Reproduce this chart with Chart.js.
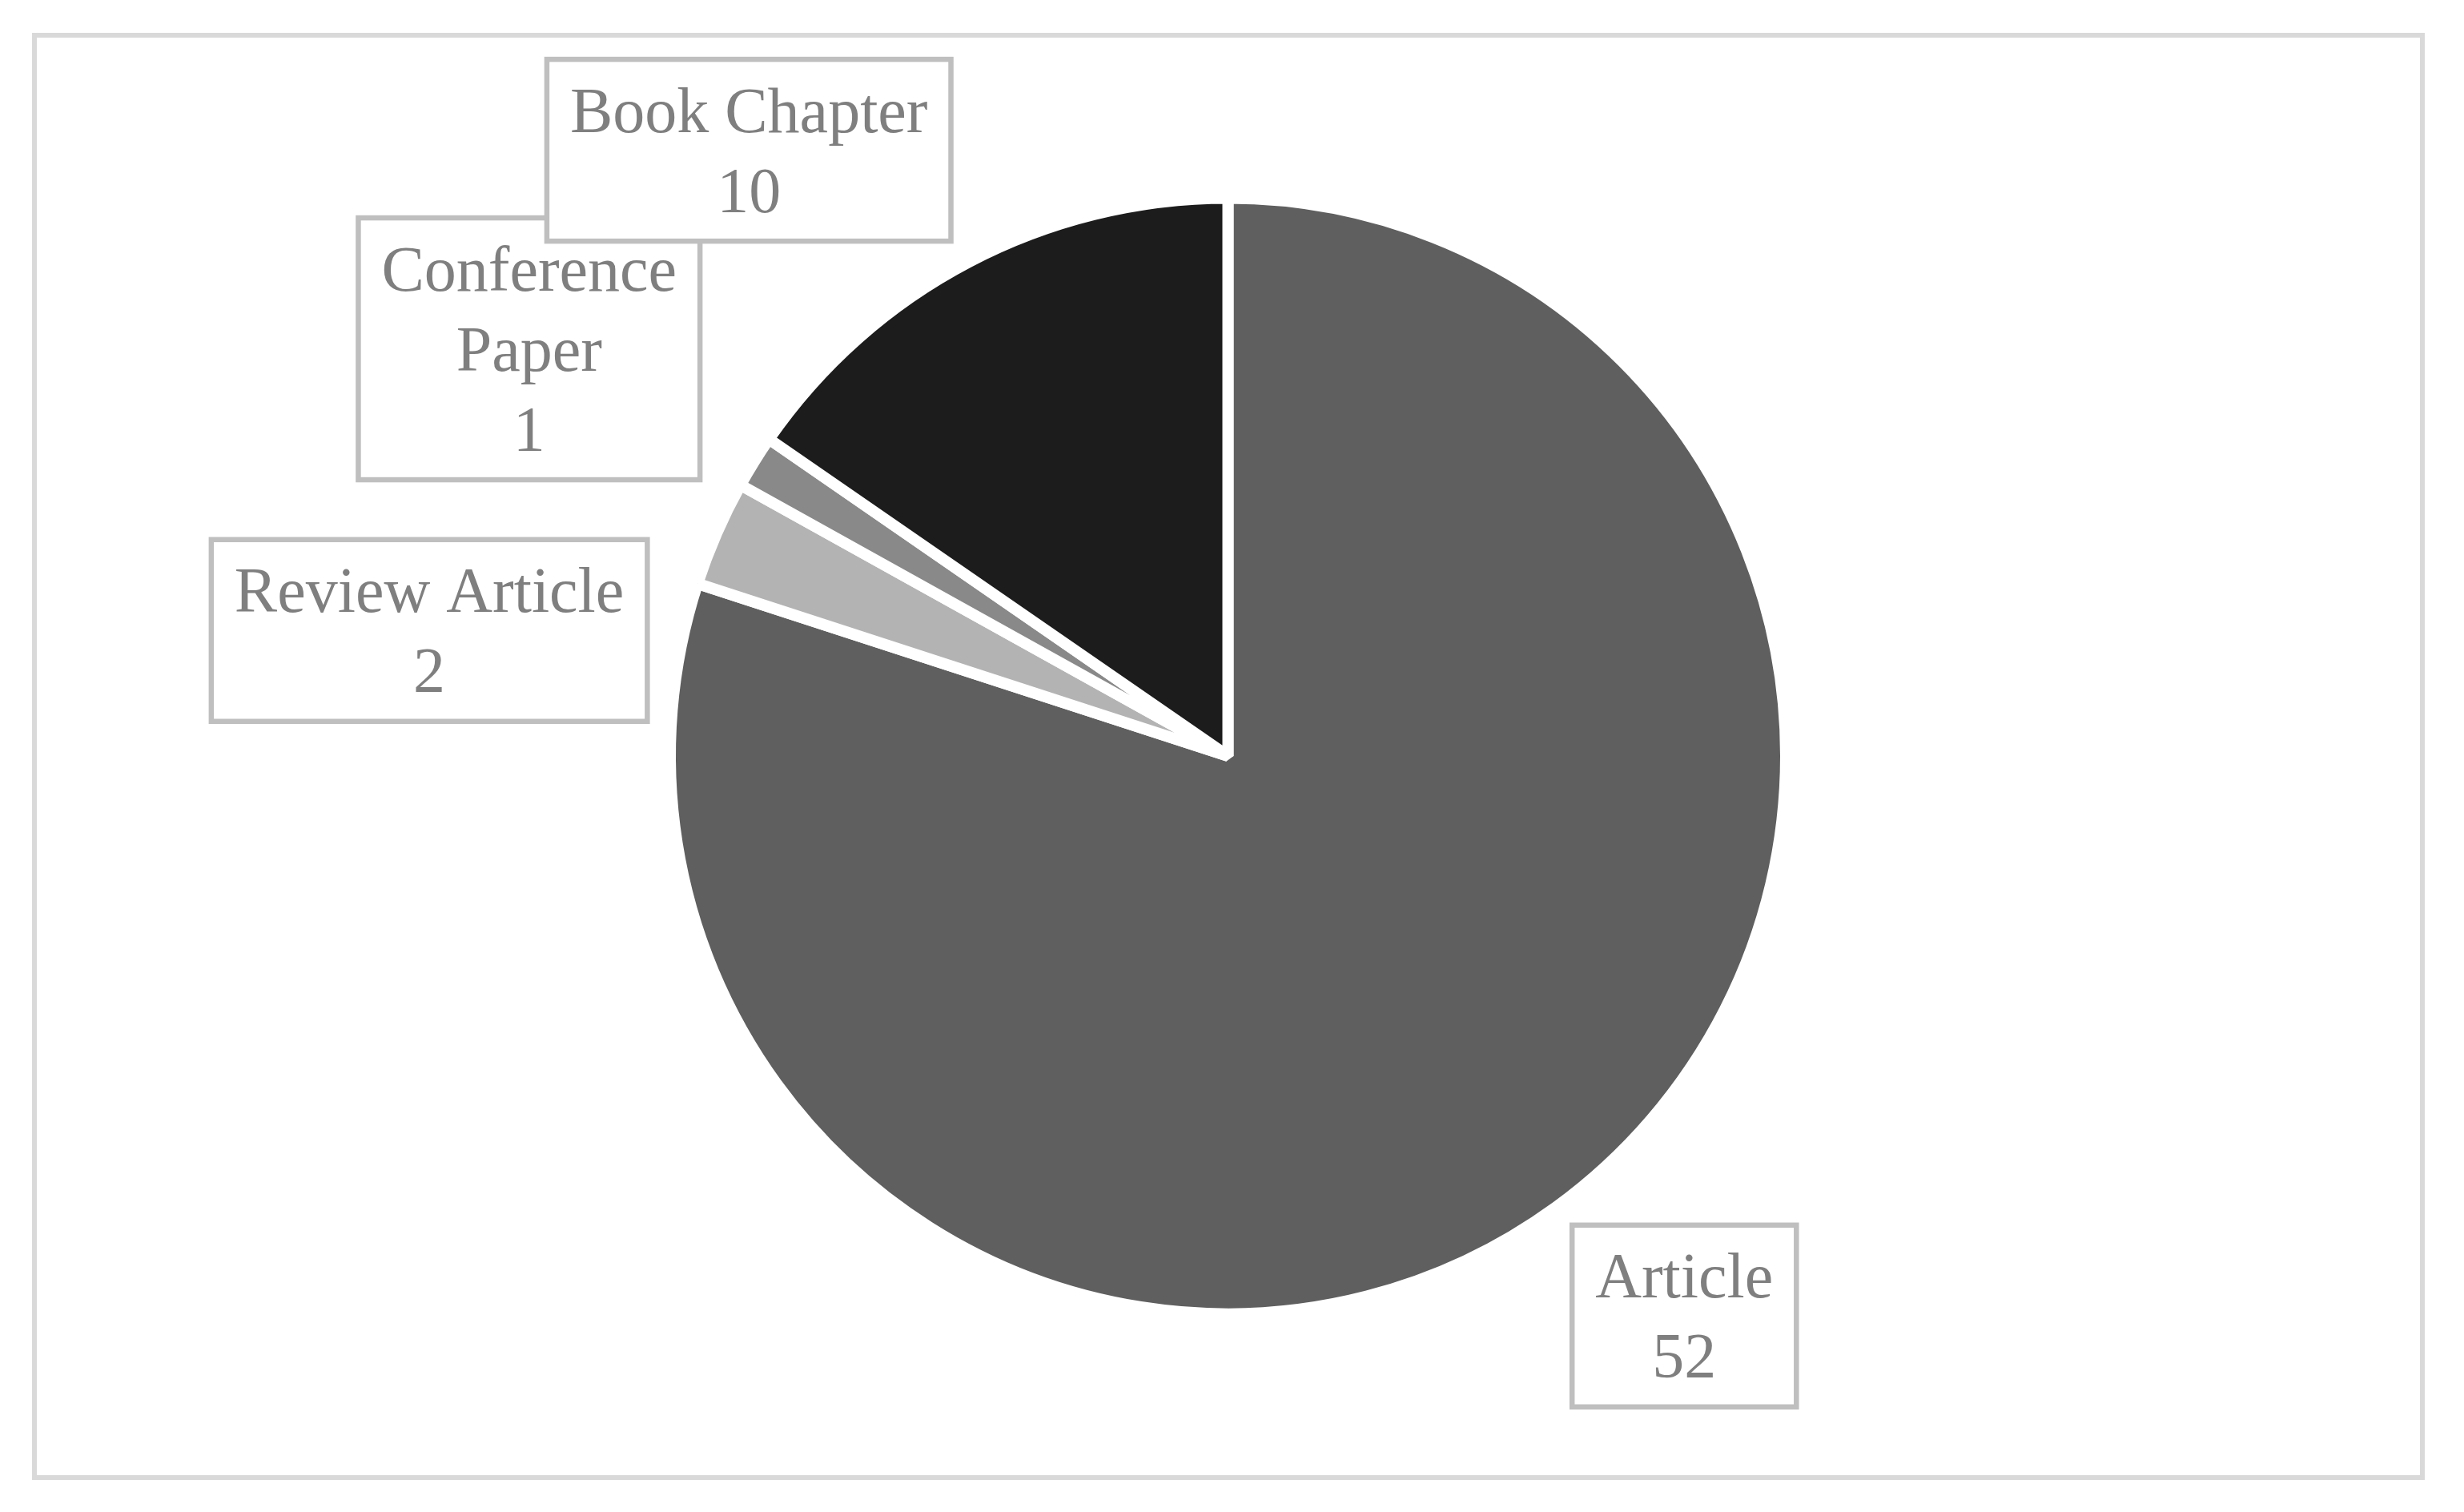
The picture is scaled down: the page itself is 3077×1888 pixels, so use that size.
<!DOCTYPE html>
<html>
<head>
<meta charset="utf-8">
<script src="https://cdn.jsdelivr.net/npm/chart.js@4/dist/chart.umd.min.js"></script>
<style>
  html, body { margin: 0; padding: 0; background: #fff; }
  canvas { display: block; }
</style>
</head>
<body>
<canvas id="myChart" width="3077" height="1888"></canvas>
<script>
// data
const categories = ['Article', 'Review Article', 'Conference Paper', 'Book Chapter'];
const counts = [52, 2, 1, 10];
const sliceColors = ['#5f5f5f', '#b3b3b3', '#898989', '#1c1c1c'];

// label text lines (Excel wraps "Conference Paper" onto two lines)
const labelLines = [['Article'], ['Review Article'], ['Conference', 'Paper'], ['Book Chapter']];
// where each label box sits, as a multiple of the pie radius from the centre
const labelPlace = [[0.818, 1.004], [-1.432, -0.225], [-1.253, -0.730], [-0.859, -1.086]];

const FONT = '80px "Liberation Serif", "DejaVu Serif", serif';
const LINE_H = 100;

const framePlugin = {
    id: 'frame',
    beforeDraw(chart) {
        const ctx = chart.ctx;
        ctx.save();
        ctx.fillStyle = '#fff';
        ctx.fillRect(0, 0, chart.width, chart.height);
        ctx.strokeStyle = '#d9d9d9';
        ctx.lineWidth = 6;
        ctx.strokeRect(43, 44, chart.width - 43 - 52, chart.height - 44 - 43);
        ctx.restore();
    }
};

const boxLabels = {
    id: 'boxLabels',
    afterDraw(chart) {
        const ctx = chart.ctx;
        const arcs = chart.getDatasetMeta(0).data;
        ctx.save();
        ctx.font = FONT;
        arcs.forEach((arc, i) => {
            const lines = labelLines[i].concat([String(counts[i])]);
            const r = arc.outerRadius;
            const cx = arc.x + labelPlace[i][0] * r;
            const cy = arc.y + labelPlace[i][1] * r;
            const tw = Math.max(...lines.map(l => ctx.measureText(l).width));
            const w = tw + 58;
            const h = lines.length * LINE_H + 27;
            ctx.fillStyle = '#fff';
            ctx.fillRect(cx - w / 2, cy - h / 2, w, h);
            ctx.strokeStyle = '#bfbfbf';
            ctx.lineWidth = 6.5;
            ctx.strokeRect(cx - w / 2, cy - h / 2, w, h);
            ctx.fillStyle = '#7f7f7f';
            ctx.textAlign = 'center';
            ctx.textBaseline = 'alphabetic';
            lines.forEach((l, k) => {
                const mid = cy + (k - (lines.length - 1) / 2) * LINE_H;
                ctx.fillText(l, cx, mid + 27);
            });
        });
        ctx.restore();
    }
};

new Chart(document.getElementById('myChart').getContext('2d'), {
    type: 'pie',
    data: {
        labels: categories,
        datasets: [{
            data: counts,
            backgroundColor: sliceColors,
            borderColor: '#ffffff',
            borderWidth: 14,
            hoverOffset: 0
        }]
    },
    options: {
        responsive: false,
        animation: false,
        devicePixelRatio: 1,
        events: [],
        // chart.js takes the border width off the radius, so the area is 7px bigger each side
        layout: { padding: { left: 830, right: 840, top: 240, bottom: 240 } },
        plugins: {
            legend: { display: false },
            tooltip: { enabled: false }
        }
    },
    plugins: [framePlugin, boxLabels]
});
</script>
</body>
</html>
